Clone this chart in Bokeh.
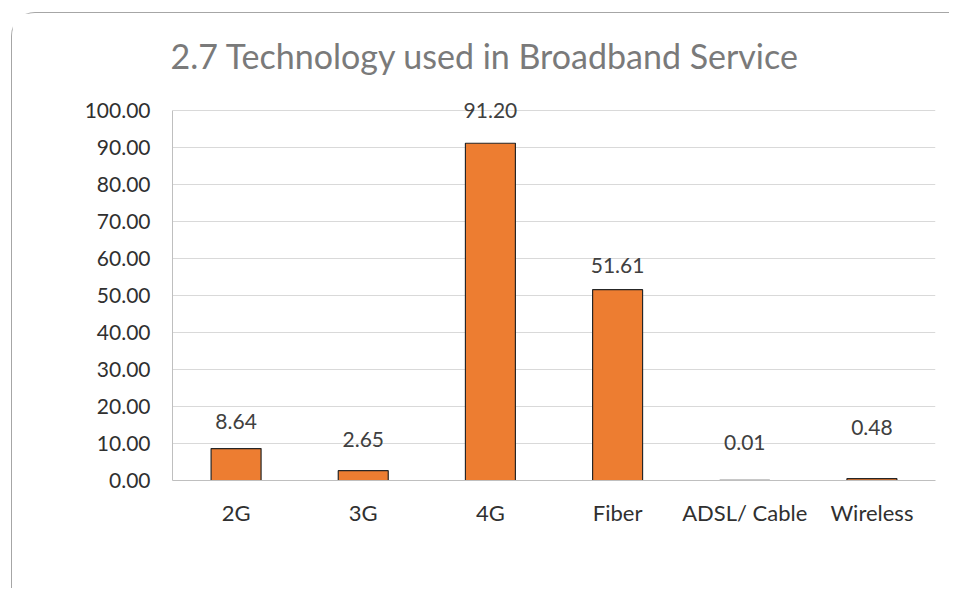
from bokeh.plotting import figure
from bokeh.models import FactorRange, Range1d, FixedTicker, PrintfTickFormatter, ColumnDataSource, LabelSet
from bokeh.core.properties import value
from bokeh.embed import file_html
from bokeh.resources import INLINE

categories = ["2G", "3G", "4G", "Fiber", "ADSL/ Cable", "Wireless"]
values = [8.64, 2.65, 91.20, 51.61, 0.01, 0.48]
labels = ["8.64", "2.65", "91.20", "51.61", "0.01", "0.48"]
y_ticks = [0, 10, 20, 30, 40, 50, 60, 70, 80, 90, 100]
title_text = "2.7 Technology used in Broadband Service"

# label pixel offsets above bar tops (style)
label_offsets = [27, 31, 33, 24, 38, 51]

FONT = "Lato"

src = ColumnDataSource(dict(cat=categories, val=values, lab=labels,
                            off=label_offsets))

p = figure(width=938, height=576, x_range=FactorRange(*categories, range_padding=0),
           y_range=Range1d(0, 106), output_backend="svg", toolbar_location=None,
           min_border_left=160, min_border_right=15, min_border_top=75, min_border_bottom=109)

p.styles = {"margin-left": "11px", "margin-top": "12px",
            "border-left": "1.5px solid #a6a6a6", "border-top": "1.5px solid #a6a6a6",
            "border-top-left-radius": "24px"}

p.title.text = title_text
p.title.text_font = FONT
p.title.text_font_size = "34px"
p.title.text_font_style = "normal"
p.title.text_color = "#7a7a7a"
p.title.align = "left"
p.title.offset = -2
p.title.standoff = 26

p.outline_line_color = None
p.background_fill_color = "white"
p.border_fill_color = "white"

p.vbar(x="cat", top="val", source=src, width=0.393, fill_color="#ED7D31",
       line_color="#262626", line_width=1.2)

p.add_layout(LabelSet(x="cat", y="val", text="lab", source=src, y_offset="off",
                      text_align="center", text_baseline="middle",
                      text_font=value(FONT), text_font_size=value("21px"),
                      text_color="#404040"))

p.yaxis.ticker = FixedTicker(ticks=y_ticks)
p.yaxis.bounds = (0, 100)
p.yaxis.formatter = PrintfTickFormatter(format="%.2f")
p.yaxis.major_tick_line_color = None
p.yaxis.minor_tick_line_color = None
p.yaxis.axis_line_color = "#bfbfbf"
p.yaxis.major_label_text_font = FONT
p.yaxis.major_label_text_font_size = "21px"
p.yaxis.major_label_text_color = "#303030"
p.yaxis.major_label_standoff = 16

p.xaxis.major_tick_line_color = None
p.xaxis.minor_tick_line_color = None
p.xaxis.axis_line_color = "#bfbfbf"
p.xaxis.major_label_text_font = FONT
p.xaxis.major_label_text_font_size = "22px"
p.xaxis.major_label_text_color = "#303030"
p.xaxis.major_label_standoff = 12

p.xgrid.grid_line_color = None
p.ygrid.grid_line_color = "#d9d9d9"
p.ygrid.grid_line_width = 1

open("out.html", "w").write(file_html(p, INLINE))
